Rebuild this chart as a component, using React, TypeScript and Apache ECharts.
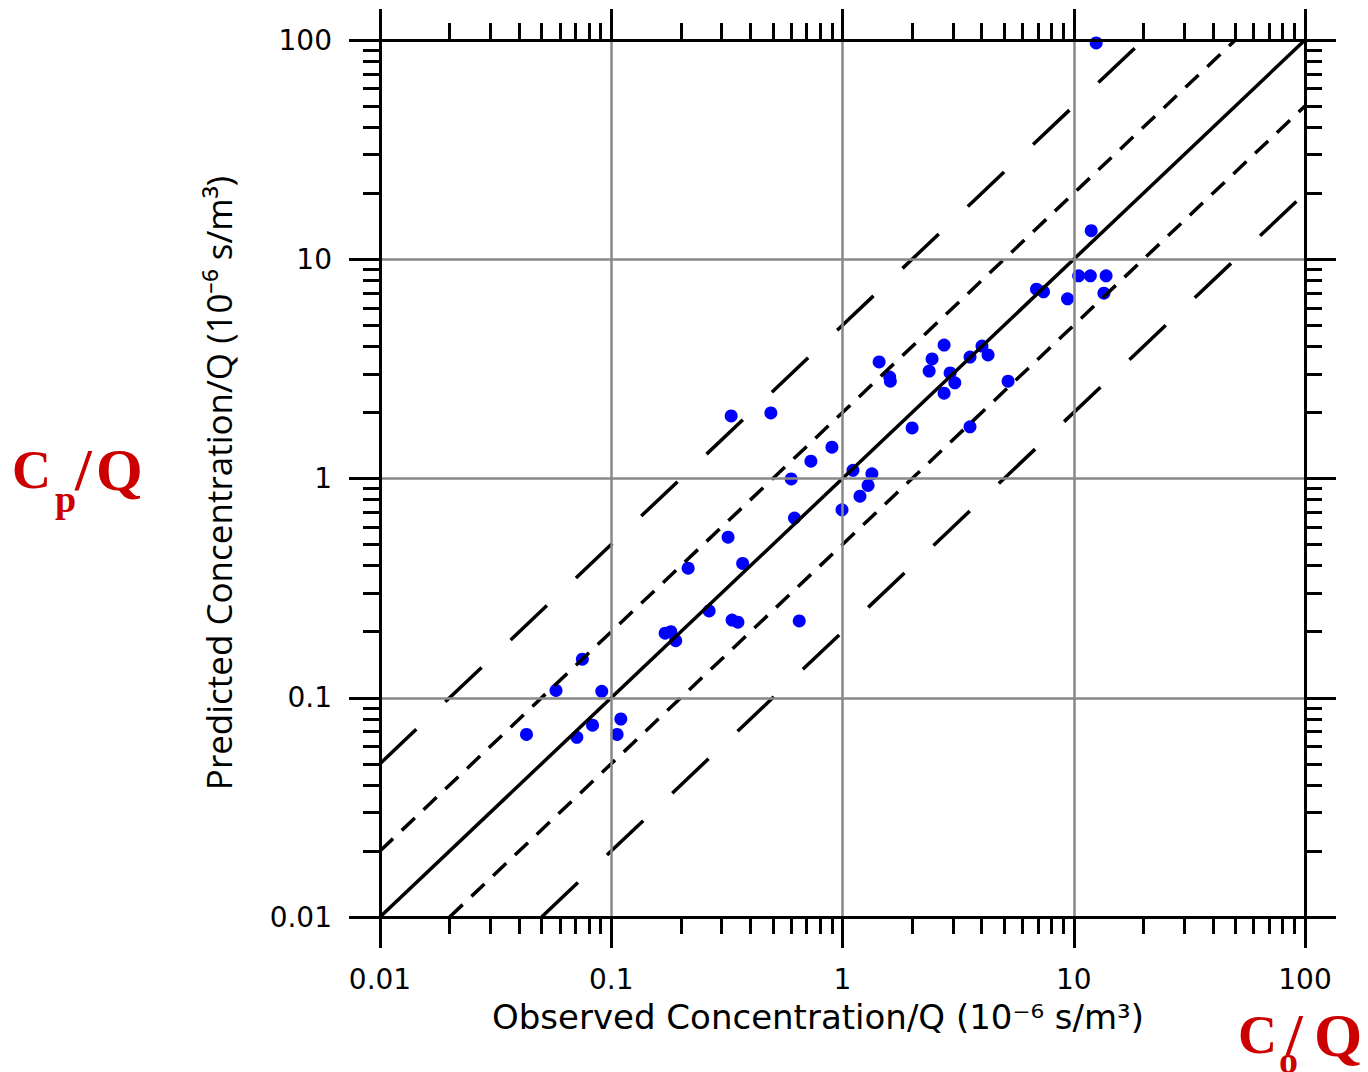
import React, { useEffect, useRef } from 'react';
import * as echarts from 'echarts';

// Observed concentration / Q (x) and predicted concentration / Q (y), 10^-6 s/m^3
const observed = [
  12.5, 11.9, 10.5, 11.8, 13.8, 6.9, 7.4, 9.4, 13.5,
  1.44, 1.6, 1.61, 2.44, 2.37, 2.75, 2.92, 3.06, 2.75, 3.56, 4.01, 4.26, 5.2, 3.56, 2.0,
  0.9, 0.73, 1.11, 1.34, 1.29, 1.19, 0.6, 0.62, 0.995, 0.49, 0.33,
  0.32, 0.37, 0.215, 0.265, 0.333, 0.353, 0.65, 0.171, 0.181, 0.19,
  0.075, 0.0577, 0.091, 0.043, 0.071, 0.083, 0.11, 0.106,
];
const predicted = [
  97, 13.5, 8.4, 8.4, 8.4, 7.3, 7.1, 6.6, 7.0,
  3.4, 2.9, 2.78, 3.51, 3.09, 4.06, 3.03, 2.73, 2.45, 3.58, 4.02, 3.66, 2.78, 1.72, 1.7,
  1.39, 1.2, 1.09, 1.05, 0.93, 0.83, 0.995, 0.66, 0.72, 1.99, 1.93,
  0.54, 0.41, 0.39, 0.249, 0.226, 0.221, 0.224, 0.197, 0.2, 0.182,
  0.15, 0.108, 0.107, 0.068, 0.066, 0.075, 0.08, 0.068,
];

// Reference lines: predicted = ratio * observed
const factorRatios = [1, 2, 0.5, 5, 0.2];

// Axis ticks
const axisMin = 0.01;
const axisMax = 100;
const majorTicks = [0.01, 0.1, 1, 10, 100];
const tickLabels = ['0.01', '0.1', '1', '10', '100'];
const minorMultipliers = [2, 3, 4, 5, 6, 7, 8, 9];

const xTitle = 'Observed Concentration/Q (10\u207B\u2076 s/m\u00B3)';
const yTitle = 'Predicted Concentration/Q (10\u207B\u2076 s/m\u00B3)';

const minorTicks = majorTicks
  .slice(0, -1)
  .flatMap((d) => minorMultipliers.map((m) => Number((d * m).toPrecision(3))));

function labelFor(v: number) {
  let best = 0;
  majorTicks.forEach((t, i) => {
    if (Math.abs(Math.log10(t) - Math.log10(v)) < Math.abs(Math.log10(majorTicks[best]) - Math.log10(v))) best = i;
  });
  return tickLabels[best];
}

const BLACK = '#000000';
const RED = '#cc0000';
const tickFont = 'DejaVu Sans';

function makeAxis(position: string, major: boolean, labels: boolean) {
  return {
    type: 'log',
    logBase: 10,
    min: axisMin,
    max: axisMax,
    position,
    axisLine: { show: major, onZero: false, lineStyle: { color: BLACK, width: 3 } },
    axisTick: {
      show: true,
      inside: false,
      customValues: major ? majorTicks : minorTicks,
      length: major ? 31 : 17,
      lineStyle: { color: BLACK, width: 3 },
    },
    minorTick: { show: false },
    axisLabel: labels
      ? {
          show: true,
          customValues: majorTicks,
          formatter: (v: number) => labelFor(v),
          margin: 48,
          fontSize: 28,
          fontFamily: tickFont,
          color: BLACK,
        }
      : { show: false },
    splitLine: major && labels ? { show: true, lineStyle: { color: '#888888', width: 2.5 } } : { show: false },
    z: 10,
  };
}

function lineStyleFor(ratio: number) {
  if (ratio === 1) return { color: BLACK, width: 3.5, type: 'solid' };
  if (ratio === 2 || ratio === 0.5) return { color: BLACK, width: 3.5, type: [18, 12] };
  return { color: BLACK, width: 3.5, type: [50, 40] };
}

const redText = (text: string, x: number, y: number, size: number) => ({
  type: 'text',
  x,
  y,
  style: {
    text,
    fontSize: size,
    fontWeight: 'bold',
    fontFamily: 'Liberation Serif',
    fill: RED,
    textVerticalAlign: 'middle',
  },
});

export default function App() {
  const ref = useRef<HTMLDivElement>(null);
  useEffect(() => {
    if (!ref.current) return;
    const chart = echarts.init(ref.current, null, { renderer: 'svg' });

    const lineSeries = factorRatios.map((r) => {
      const x0 = Math.max(axisMin, axisMin / r);
      const x1 = Math.min(axisMax, axisMax / r);
      return {
        type: 'line',
        data: [
          [x0, x0 * r],
          [x1, x1 * r],
        ],
        showSymbol: false,
        symbol: 'none',
        lineStyle: lineStyleFor(r),
        clip: true,
        z: 4,
        silent: true,
      };
    });

    chart.setOption({
      animation: false,
      backgroundColor: '#ffffff',
      grid: { left: 380, right: 63, top: 40, bottom: 155, containLabel: false },
      xAxis: [
        makeAxis('bottom', true, true),
        makeAxis('bottom', false, false),
        makeAxis('top', true, false),
        makeAxis('top', false, false),
      ],
      yAxis: [
        makeAxis('left', true, true),
        makeAxis('left', false, false),
        makeAxis('right', true, false),
        makeAxis('right', false, false),
      ],
      series: [
        {
          type: 'scatter',
          data: observed.map((x, i) => [x, predicted[i]]),
          symbol: 'circle',
          symbolSize: 13,
          itemStyle: { color: '#0000ff', opacity: 1 },
          z: 3,
        },
        ...lineSeries,
      ],
      graphic: [
        {
          type: 'text',
          x: 818,
          y: 1017,
          style: {
            text: xTitle,
            fontSize: 34,
            fontFamily: 'DejaVu Sans',
            fill: BLACK,
            textAlign: 'center',
            textVerticalAlign: 'middle',
          },
        },
        {
          type: 'text',
          x: 218,
          y: 483,
          rotation: Math.PI / 2,
          style: {
            text: yTitle,
            fontSize: 35,
            fontFamily: 'Open Sans',
            fill: BLACK,
            textAlign: 'center',
            textVerticalAlign: 'middle',
          },
        },
        redText('C', 12, 470, 54),
        redText('p', 55, 499, 38),
        redText('/', 75, 470, 60),
        redText('Q', 96, 470, 60),
        redText('C', 1238, 1035, 54),
        redText('o', 1279, 1060, 38),
        redText('/', 1286, 1035, 60),
        redText('Q', 1314, 1035, 62),
      ],
    });
    return () => chart.dispose();
  }, []);
  return <div ref={ref} style={{ position: 'fixed', left: 0, top: 0, width: 1368, height: 1072 }} />;
}
